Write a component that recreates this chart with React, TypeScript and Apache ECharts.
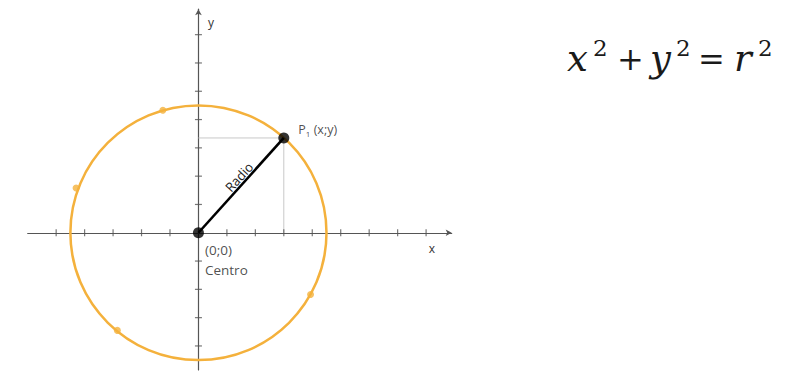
import React, { useEffect, useRef } from "react";
import * as echarts from "echarts";

const xTicks = [-5, -4, -3, -2, -1, 1, 2, 3, 4, 5, 6, 7, 8];
const yTicks = [-4, -3, -2, -1, 1, 2, 3, 4, 5, 6, 7];
const xRange = [-6, 8.9];
const yRange = [-4.85, 7.9];
const centerPoint = [0, 0];
const radius = 4.5;
const pointP1 = [3, 3.35];
const circlePoints = [
  [-1.25, 4.33],
  [-4.3, 1.58],
  [-2.85, -3.45],
  [3.94, -2.18],
];

const ORANGE = "#F4B13C";
const AXIS = "#555555";
const LABEL_FONT = "'Open Sans', 'Noto Sans', sans-serif";
const MATH_FONT = "'DejaVu Serif', 'Liberation Serif', serif";

export default function App() {
  const ref = useRef<HTMLDivElement>(null);
  useEffect(() => {
    if (!ref.current) return;
    const chart = echarts.init(ref.current, undefined, { renderer: "svg" });
    const mathMain = { fontFamily: MATH_FONT, fontSize: 37, fontStyle: "italic", fill: "#1a1a1a", verticalAlign: "middle" };
    const mathSup = { fontFamily: MATH_FONT, fontSize: 23, fill: "#1a1a1a", verticalAlign: "middle" };
    const mathOp = { fontFamily: MATH_FONT, fontSize: 32, fill: "#1a1a1a", verticalAlign: "middle" };
    chart.setOption({
      animation: false,
      backgroundColor: "#ffffff",
      grid: { left: 27.7, right: 333.3, top: 9.2, bottom: 1, containLabel: false },
      xAxis: {
        type: "value",
        min: xRange[0],
        max: xRange[1],
        axisLine: {
          show: true,
          onZero: true,
          symbol: ["none", "arrow"],
          symbolSize: [5, 6],
          lineStyle: { color: AXIS, width: 1.2 },
        },
        axisTick: { show: false },
        axisLabel: { show: false },
        splitLine: { show: false },
      },
      yAxis: {
        type: "value",
        min: yRange[0],
        max: yRange[1],
        axisLine: {
          show: true,
          onZero: true,
          symbol: ["none", "arrow"],
          symbolSize: [5, 6],
          lineStyle: { color: AXIS, width: 1.2 },
        },
        axisTick: { show: false },
        axisLabel: { show: false },
        splitLine: { show: false },
      },
      series: [
        {
          type: "scatter",
          data: xTicks.map((v) => [v, 0]),
          symbol: "rect",
          symbolSize: [1.2, 7],
          itemStyle: { color: AXIS },
          silent: true,
          z: 1,
        },
        {
          type: "scatter",
          data: yTicks.map((v) => [0, v]),
          symbol: "rect",
          symbolSize: [7, 1.2],
          itemStyle: { color: AXIS },
          silent: true,
          z: 1,
        },
        {
          type: "line",
          data: [[0, pointP1[1]], pointP1, [pointP1[0], 0]],
          showSymbol: false,
          lineStyle: { color: "#c8c8c8", width: 1 },
          z: 1,
        },
        {
          type: "custom",
          clip: false,
          data: [[centerPoint[0], centerPoint[1], radius]],
          renderItem: (params: any, api: any) => {
            const c = api.coord([api.value(0), api.value(1)]);
            const s = api.size([api.value(2), api.value(2)], [api.value(0), api.value(1)]);
            return {
              type: "ellipse",
              shape: { cx: c[0], cy: c[1], rx: s[0], ry: s[1] },
              style: { fill: "none", stroke: ORANGE, lineWidth: 2.5 },
            };
          },
          z: 2,
        },
        {
          type: "scatter",
          data: circlePoints,
          symbolSize: 7,
          itemStyle: { color: ORANGE },
          z: 3,
        },
        {
          type: "line",
          data: [centerPoint, pointP1],
          showSymbol: false,
          lineStyle: { color: "#000000", width: 2.6 },
          z: 4,
        },
        {
          type: "scatter",
          data: [
            {
              value: centerPoint,
              label: {
                show: true,
                position: "right",
                offset: [-4, 27],
                formatter: "(0;0)\nCentro",
                lineHeight: 20,
                fontSize: 13.5,
                fontFamily: LABEL_FONT,
                color: "#222",
              },
            },
            {
              value: pointP1,
              label: {
                show: true,
                position: "right",
                offset: [4, -8],
                formatter: "{a|P}{s|1}{a| (x;y)}",
                rich: {
                  a: { fontSize: 12.5, fontFamily: LABEL_FONT, color: "#222" },
                  s: { fontSize: 8, fontFamily: LABEL_FONT, color: "#222", padding: [8, 0, 0, 0] },
                },
              },
            },
          ],
          symbolSize: 11,
          itemStyle: { color: "#000000" },
          z: 5,
        },
      ],
      graphic: [
        {
          type: "text",
          x: 239,
          y: 177,
          rotation: (48 * Math.PI) / 180,
          style: {
            text: "Radio",
            fontSize: 13,
            fontFamily: LABEL_FONT,
            fill: "#222",
            align: "center",
            verticalAlign: "middle",
          },
        },
        { type: "text", x: 208, y: 22, style: { text: "y", fontSize: 12, fontFamily: LABEL_FONT, fill: "#333", align: "left", verticalAlign: "middle" } },
        { type: "text", x: 432, y: 248, style: { text: "x", fontSize: 12, fontFamily: LABEL_FONT, fill: "#333", align: "center", verticalAlign: "middle" } },
        { type: "text", x: 567, y: 58, style: { ...mathMain, text: "x" } },
        { type: "text", x: 593, y: 48, style: { ...mathSup, text: "2" } },
        { type: "text", x: 617, y: 59, style: { ...mathOp, text: "+" } },
        { type: "text", x: 650, y: 58, style: { ...mathMain, text: "y" } },
        { type: "text", x: 676, y: 48, style: { ...mathSup, text: "2" } },
        { type: "text", x: 698, y: 59, style: { ...mathOp, text: "=" } },
        { type: "text", x: 734, y: 58, style: { ...mathMain, text: "r" } },
        { type: "text", x: 758, y: 48, style: { ...mathSup, text: "2" } },
      ],
    });
    return () => chart.dispose();
  }, []);
  return (
    <div
      ref={ref}
      style={{ position: "fixed", left: 0, top: 0, width: 785, height: 371, background: "#fff" }}
    />
  );
}
